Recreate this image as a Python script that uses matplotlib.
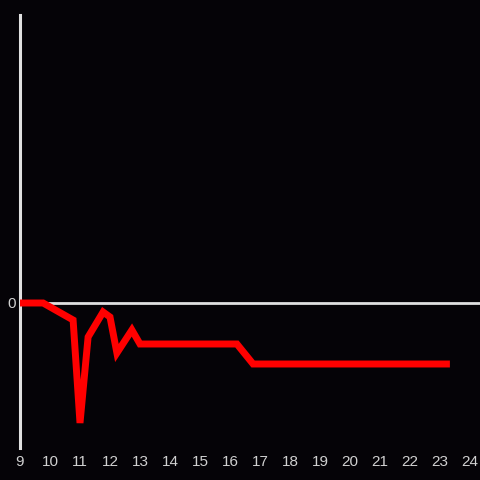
import matplotlib
matplotlib.use("Agg")
import matplotlib.pyplot as plt

# data (hours of day, arbitrary units)
hours = [9.0, 9.77, 10.77, 11.0, 11.27, 11.77, 12.0, 12.23, 12.73, 13.0, 16.23, 16.77, 23.33]
values = [0, 0, -17, -120, -34, -9, -14, -50, -27, -41, -41, -61, -61]
xticks = list(range(9, 25))
yticks = [0]

bg = "#050307"
axis_col = "#e0e0e0"
text_col = "#d0d0d0"

fig = plt.figure(figsize=(4.8, 4.8), dpi=100, facecolor=bg)
ax = fig.add_axes([20/480, 1-448/480, 460/480, 433/480])
ax.set_facecolor(bg)

ax.plot(hours, values, color="#ff0000", linewidth=5, solid_joinstyle="miter",
        solid_capstyle="butt", zorder=3)
ax.axhline(0, color=axis_col, linewidth=2, zorder=2)

ax.set_xlim(9, 9 + 460/30)
ax.set_ylim(-145, 288)
ax.set_xticks(xticks)
ax.set_xticklabels([str(t) for t in xticks])
ax.set_yticks(yticks)
ax.set_yticklabels(["0"])

for s in ["top", "right", "bottom"]:
    ax.spines[s].set_visible(False)
ax.spines["left"].set_color(axis_col)
ax.spines["left"].set_linewidth(2.2)

ax.tick_params(axis="both", length=0, colors=text_col, labelsize=11)
ax.tick_params(axis="x", pad=5)
ax.tick_params(axis="y", pad=3)
for lab in ax.get_xticklabels() + ax.get_yticklabels():
    lab.set_fontfamily("Liberation Sans")

fig.savefig("out.png", dpi=100, facecolor=bg)
